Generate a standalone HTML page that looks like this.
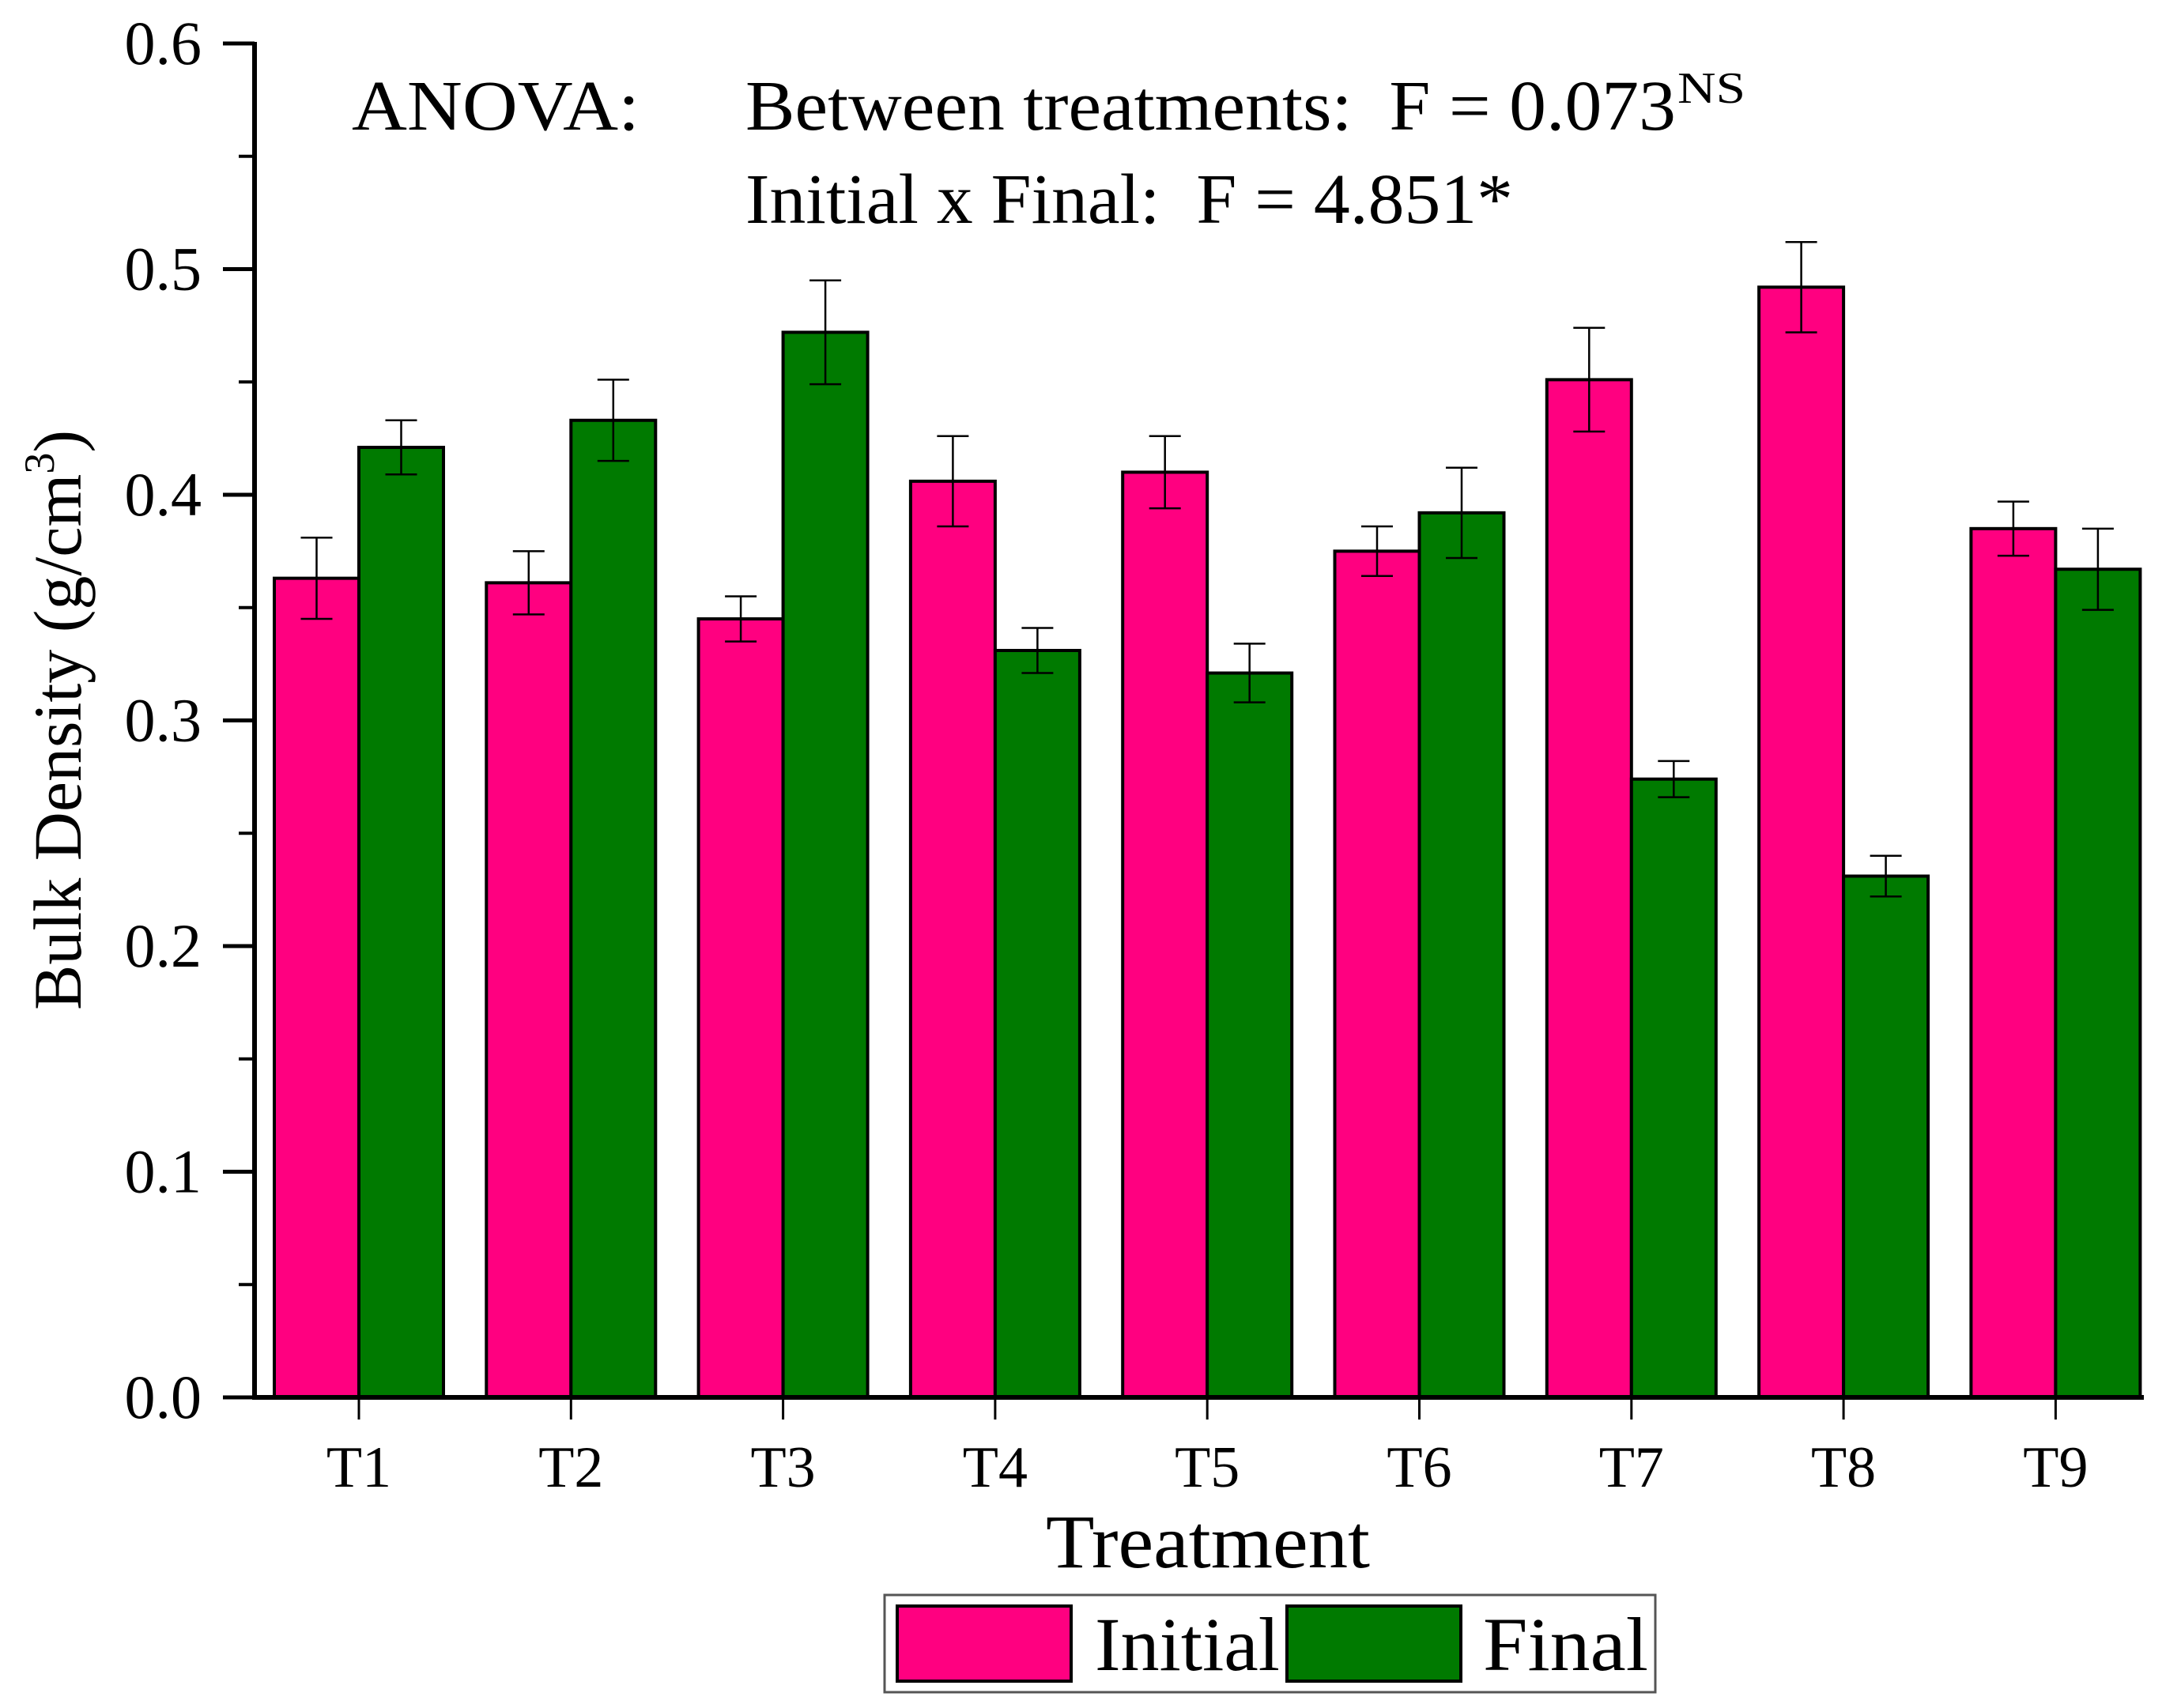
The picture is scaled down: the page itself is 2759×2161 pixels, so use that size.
<!DOCTYPE html>
<html><head><meta charset="utf-8"><style>
body{margin:0;background:#fff}
svg{display:block;font-family:"Liberation Serif",serif}
</style></head><body>
<svg id="chart" width="2759" height="2161" viewBox="0 0 2759 2161" xmlns="http://www.w3.org/2000/svg">
<g id="plot"></g>
<text x="445" y="164" font-size="90" textLength="364" lengthAdjust="spacingAndGlyphs">ANOVA:</text>
<text x="943" y="164" font-size="90" textLength="1177" lengthAdjust="spacingAndGlyphs" xml:space="preserve">Between treatments:  F = 0.073</text>
<text x="2122" y="130" font-size="56" textLength="86" lengthAdjust="spacingAndGlyphs">NS</text>
<text x="943" y="282" font-size="90" textLength="971" lengthAdjust="spacingAndGlyphs" xml:space="preserve">Initial x Final:  F = 4.851*</text>
<text transform="translate(102,911) rotate(-90)" text-anchor="middle" font-size="86">Bulk Density (g/cm<tspan font-size="54" dy="-34">3</tspan><tspan dy="34">)</tspan></text>
<text x="1323" y="1983" font-size="96" textLength="410" lengthAdjust="spacingAndGlyphs">Treatment</text>
<g>
<rect x="1119" y="2018" width="975" height="123" fill="#fff" stroke="#555" stroke-width="3"/>
<rect x="1135" y="2032" width="220" height="95" fill="#FF0080" stroke="#000" stroke-width="4"/>
<text x="1385" y="2113" font-size="96" textLength="234" lengthAdjust="spacingAndGlyphs">Initial</text>
<rect x="1628" y="2032" width="220" height="95" fill="#007A00" stroke="#000" stroke-width="4"/>
<text x="1876" y="2113" font-size="96" textLength="209" lengthAdjust="spacingAndGlyphs">Final</text>
</g>
</svg>
<script>
const categories=["T1","T2","T3","T4","T5","T6","T7","T8","T9"];
const initialValues=[0.363,0.361,0.345,0.406,0.410,0.375,0.451,0.492,0.385];
const initialErrors=[0.018,0.014,0.010,0.020,0.016,0.011,0.023,0.020,0.012];
const finalValues=[0.421,0.433,0.472,0.331,0.321,0.392,0.274,0.231,0.367];
const finalErrors=[0.012,0.018,0.023,0.010,0.013,0.020,0.008,0.009,0.018];
const yTicks=["0.0","0.1","0.2","0.3","0.4","0.5","0.6"];

const NS="http://www.w3.org/2000/svg";
const g=document.getElementById('plot');
const X0=322,Y0=1768,YMAX=0.6,YTOP=55,XEND=2712;
const y=v=>Y0-(v/YMAX)*(Y0-YTOP);
const cx=i=>454+i*268.3;
const BW=107;
function mk(tag,attrs){const e=document.createElementNS(NS,tag);for(const k in attrs)e.setAttribute(k,attrs[k]);g.appendChild(e);return e;}

function bar(i,v,err,left,color,series){
  const x=left?cx(i)-BW:cx(i);
  const r=mk('rect',{x:x,y:y(v),width:BW,height:Y0-y(v),fill:color,stroke:'#000','stroke-width':4});
  
  
  const m=x+BW/2;
  const e=mk('path',{d:`M${m},${y(v+err)}V${y(v-err)}M${m-20},${y(v+err)}H${m+20}M${m-20},${y(v-err)}H${m+20}`,stroke:'#000','stroke-width':2.5,fill:'none'});
  
  
}
categories.forEach((c,i)=>{
  bar(i,initialValues[i],initialErrors[i],true,'#FF0080','initial');
  bar(i,finalValues[i],finalErrors[i],false,'#007A00','final');
  const t=mk('line',{x1:cx(i),x2:cx(i),y1:Y0,y2:Y0+28,stroke:'#000','stroke-width':3});
  
  
  const l=mk('text',{x:cx(i),y:1881,'text-anchor':'middle','font-size':74});
  l.textContent=c;
  
  
});
yTicks.forEach((s,k)=>{
  const v=parseFloat(s);
  const t=mk('line',{x1:X0-40,x2:X0,y1:y(v),y2:y(v),stroke:'#000','stroke-width':5});
  
  
  const l=mk('text',{x:255,y:y(v)+26,'text-anchor':'end','font-size':78});
  l.textContent=s;
  
  
  if(k<yTicks.length-1){
    const mt=mk('line',{x1:X0-20,x2:X0,y1:y(v+0.05),y2:y(v+0.05),stroke:'#000','stroke-width':4});
    
    
  }
});
const ya=mk('line',{x1:X0,x2:X0,y1:YTOP-2,y2:Y0+3,stroke:'#000','stroke-width':6});


const xa=mk('line',{x1:X0-3,x2:XEND,y1:Y0,y2:Y0,stroke:'#000','stroke-width':6});


</script>
</body></html>
